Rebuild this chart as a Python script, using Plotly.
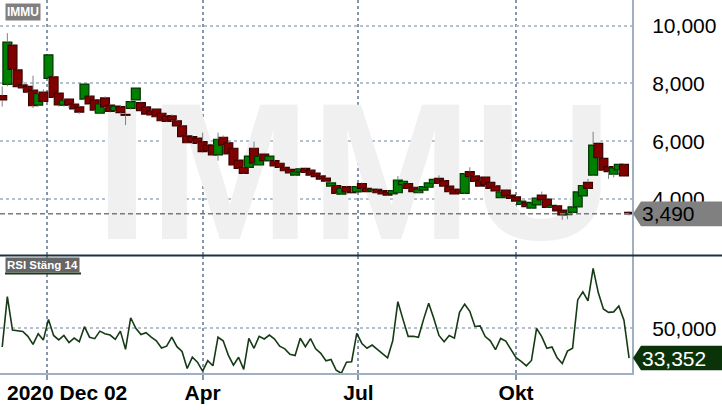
import pandas as pd
import plotly.graph_objects as go

# one candle every third day, Dec 2019 -> Dec 2020 (IMMU, SEK)
dates = pd.date_range("2019-12-06", periods=123, freq="3D")

opens = [7.58, 7.97, 9.33, 8.47, 7.95, 7.90, 7.77, 7.25, 7.70, 8.18,
         8.23, 7.67, 7.25, 7.46, 7.29, 7.19, 7.46, 7.56, 7.43, 6.97,
         7.50, 7.25, 7.06, 7.20, 6.93, 7.14, 7.43, 7.34, 7.19, 7.06,
         7.11, 6.97, 6.88, 6.88, 6.71, 6.53, 6.19, 6.16, 6.11, 5.99,
         5.87, 5.87, 5.53, 6.14, 5.95, 5.76, 5.35, 5.10, 5.10, 5.76,
         5.18, 5.56, 5.33, 5.33, 5.24, 5.10, 5.03, 4.83, 4.93, 5.06,
         5.00, 4.90, 4.80, 4.73, 4.45, 4.47, 4.17, 4.43, 4.25, 4.25,
         4.54, 4.37, 4.28, 4.34, 4.29, 4.25, 4.18, 4.22, 4.50, 4.54,
         4.41, 4.22, 4.31, 4.41, 4.54, 4.72, 4.64, 4.45, 4.34, 4.34,
         4.20, 4.95, 4.80, 4.64, 4.76, 4.58, 4.46, 4.05, 4.31, 4.14,
         4.08, 3.82, 3.89, 3.69, 3.80, 4.14, 4.00, 3.71, 3.77, 3.62,
         3.46, 3.54, 3.73, 4.11, 4.58, 4.83, 5.93, 5.41, 5.12, 4.86,
         5.01, 5.20, 3.54]
highs = [7.90, 9.74, 9.40, 8.52, 8.10, 7.95, 8.27, 7.75, 7.80, 9.00,
         8.30, 7.70, 7.48, 7.50, 7.35, 7.25, 8.00, 7.60, 7.45, 7.30,
         7.55, 7.30, 7.25, 7.25, 6.99, 7.40, 7.86, 7.38, 7.22, 7.10,
         7.15, 7.00, 6.92, 6.93, 6.76, 6.56, 6.23, 6.20, 6.15, 6.30,
         5.90, 5.90, 6.30, 6.20, 6.00, 5.80, 5.40, 5.15, 5.50, 5.99,
         5.50, 5.60, 5.52, 5.38, 5.28, 5.13, 5.06, 4.98, 5.08, 5.09,
         5.04, 4.95, 4.85, 4.78, 4.60, 4.50, 4.40, 4.46, 4.28, 4.45,
         4.58, 4.40, 4.38, 4.37, 4.31, 4.28, 4.30, 4.80, 4.63, 4.57,
         4.44, 4.35, 4.45, 4.58, 4.72, 4.82, 4.67, 4.48, 4.37, 4.36,
         4.92, 5.10, 4.83, 4.67, 4.80, 4.60, 4.49, 4.27, 4.35, 4.17,
         4.11, 3.95, 3.92, 3.90, 4.05, 4.26, 4.03, 3.79, 3.80, 3.64,
         3.56, 3.75, 4.27, 4.50, 4.70, 6.33, 5.96, 5.45, 5.15, 5.10,
         5.22, 5.22, 3.58]
lows = [7.20, 7.90, 8.45, 7.85, 7.78, 7.65, 7.15, 7.20, 7.35, 8.15,
        7.50, 7.20, 7.20, 7.15, 7.05, 6.95, 7.40, 7.25, 7.00, 6.95,
        7.15, 7.00, 7.00, 6.95, 6.56, 7.10, 7.40, 7.03, 6.92, 6.88,
        6.82, 6.68, 6.66, 6.72, 6.50, 6.15, 5.93, 5.97, 5.90, 5.60,
        5.65, 5.50, 5.33, 5.85, 5.54, 5.16, 5.04, 4.87, 5.08, 5.22,
        5.15, 5.30, 5.30, 5.13, 5.08, 4.96, 4.89, 4.80, 4.90, 4.90,
        4.81, 4.76, 4.67, 4.58, 4.42, 4.18, 4.15, 4.23, 4.20, 4.22,
        4.35, 4.24, 4.25, 4.20, 4.16, 4.12, 4.15, 4.20, 4.48, 4.35,
        4.25, 4.20, 4.29, 4.39, 4.52, 4.52, 4.43, 4.24, 4.16, 4.18,
        4.18, 4.76, 4.59, 4.42, 4.47, 4.35, 4.26, 4.03, 4.10, 4.00,
        3.91, 3.80, 3.72, 3.67, 3.78, 3.95, 3.69, 3.69, 3.57, 3.28,
        3.30, 3.52, 3.70, 4.08, 4.35, 4.80, 5.41, 4.98, 4.70, 4.75,
        4.90, 4.78, 3.43]
closes = [7.43, 9.43, 8.49, 7.89, 7.85, 7.70, 7.23, 7.65, 7.38, 8.99,
          7.52, 7.26, 7.42, 7.26, 7.12, 7.01, 7.98, 7.29, 7.08, 7.29,
          7.19, 7.03, 7.22, 6.99, 6.90, 7.37, 7.84, 7.06, 6.94, 6.91,
          6.85, 6.71, 6.69, 6.74, 6.53, 6.16, 5.95, 5.99, 5.93, 5.64,
          5.67, 5.53, 6.07, 5.87, 5.56, 5.18, 5.06, 4.89, 5.49, 5.24,
          5.48, 5.33, 5.49, 5.15, 5.10, 4.98, 4.91, 4.95, 5.05, 4.92,
          4.83, 4.78, 4.69, 4.62, 4.56, 4.20, 4.37, 4.25, 4.22, 4.43,
          4.37, 4.26, 4.34, 4.22, 4.18, 4.14, 4.29, 4.66, 4.61, 4.37,
          4.26, 4.34, 4.43, 4.56, 4.68, 4.54, 4.45, 4.26, 4.18, 4.20,
          4.88, 4.78, 4.61, 4.45, 4.49, 4.37, 4.28, 4.25, 4.11, 4.02,
          3.93, 3.93, 3.74, 3.88, 4.03, 3.97, 3.71, 3.78, 3.59, 3.45,
          3.52, 3.73, 4.25, 4.47, 4.37, 5.87, 5.43, 5.00, 4.95, 5.08,
          5.20, 4.80, 3.49]
rsi = [39.5, 67.7, 49.0, 48.8, 48.2, 45.5, 41.0, 47.0, 43.4, 55.0,
       46.0, 43.5, 46.0, 42.0, 44.5, 42.5, 50.9, 45.0, 44.2, 48.4,
       47.0, 46.2, 43.8, 48.4, 38.2, 55.9, 50.0, 46.5, 47.5, 45.0,
       43.0, 39.0, 40.0, 45.0, 39.7, 37.0, 27.5, 33.8, 31.0, 26.0,
       31.9, 29.0, 45.0, 43.0, 35.0, 29.4, 33.8, 27.0, 44.4, 38.8,
       45.5, 44.0, 46.2, 44.0, 40.0, 38.5, 35.5, 34.8, 44.4, 39.7,
       44.2, 38.5, 36.0, 31.8, 32.5, 26.5, 24.8, 31.0, 31.3, 47.2,
       41.5, 38.8, 40.6, 38.2, 36.0, 33.4, 43.0, 64.9, 55.0, 45.5,
       45.5, 45.0, 55.0, 64.0, 55.5, 46.0, 42.5, 46.0, 44.5, 59.0,
       63.5, 59.5, 51.0, 51.3, 45.4, 43.0, 38.0, 44.3, 42.8, 38.5,
       33.5, 31.5, 29.0, 32.0, 50.0, 45.3, 38.8, 39.5, 33.5, 30.3,
       37.2, 38.8, 65.9, 70.4, 65.3, 83.6, 70.0, 60.8, 58.9, 59.2,
       62.5, 54.5, 33.352]

tick_dates = ["2020-01-01", "2020-04-01", "2020-07-01", "2020-10-01"]
tick_text = ["", "Apr", "Jul", "Okt"]

UP, DOWN = "#008000", "#800000"
UP_EDGE, DOWN_EDGE = "#003300", "#3d0000"
RSI_COL = "#153a15"
AXIS_COL = "#9fb0c3"
GRID_V = "#8797a9"
GRID_H = "#b5c1cd"
FONT = "Liberation Sans, Arial, sans-serif"
PRICE_RANGE = [2.066, 10.889]
PRICE_DOMAIN = [0.3164, 1]


def fmt(v):
    return f"{v:.3f}".replace(".", ",")


up = [c >= o for o, c in zip(opens, closes)]
# wicks stop at the body so they never run across the box
wick_x, wick_y = [], []
for d, o, h, lo, c in zip(dates, opens, highs, lows, closes):
    wick_x += [d, d, None, d, d, None]
    wick_y += [lo, min(o, c), None, max(o, c), h, None]

fig = go.Figure()
# big faint ticker in the background (base subplot, so candles sit on top of it)
fig.add_trace(go.Scatter(
    x=[pd.Timestamp("2020-06-28 05:00")], y=[4.30], mode="text", text=["IMMU"],
    textposition="middle center", hoverinfo="skip",
    textfont=dict(family=FONT, size=194, color="#f0f0f0", weight="bold")))
fig.add_trace(go.Bar(
    x=dates, base=opens, y=[c - o for o, c in zip(opens, closes)], yaxis="y3",
    width=[5.2 * 86400000] * len(dates),
    marker=dict(color=[UP if u else DOWN for u in up],
                line=dict(color=[UP_EDGE if u else DOWN_EDGE for u in up], width=1.2))))
fig.add_trace(go.Scatter(x=wick_x, y=wick_y, yaxis="y3", mode="lines", hoverinfo="skip",
                         line=dict(color="#808080", width=1)))
fig.add_trace(go.Scatter(x=dates, y=rsi, yaxis="y2", mode="lines",
                         line=dict(color=RSI_COL, width=1.6)))

last_p, last_r = closes[-1], rsi[-1]
badge = "M 1,0 L 9,12.3 L 95,12.3 L 95,-12.3 L 9,-12.3 Z"
fig.update_layout(
    width=722, height=410, margin=dict(l=0, r=90, t=0, b=37),
    paper_bgcolor="white", plot_bgcolor="white", showlegend=False,
    separators=",.", font=dict(family=FONT, color="black"),
    xaxis=dict(type="date", range=["2019-12-04 17:00", "2020-12-07 16:48"],
               anchor="y2", tickvals=tick_dates, ticktext=tick_text,
               showgrid=True, gridcolor=GRID_V, griddash="dot", gridwidth=1.5,
               showline=True, linecolor=AXIS_COL, linewidth=2,
               ticks="outside", ticklen=5, tickcolor=GRID_V, tickwidth=1.5,
               ticklabelstandoff=-5,
               tickfont=dict(family=FONT, size=21, color="black", weight="bold")),
    yaxis=dict(domain=PRICE_DOMAIN, range=PRICE_RANGE, side="right", anchor="x",
               tick0=0, dtick=2, tickformat=".3f",
               showgrid=True, gridcolor=GRID_H, griddash="dot", gridwidth=1.5,
               zeroline=False, showline=True, linecolor=AXIS_COL, linewidth=2,
               ticklabelstandoff=14, tickfont=dict(family=FONT, size=21, color="black")),
    yaxis3=dict(overlaying="y", range=PRICE_RANGE, anchor="x", visible=False,
                showgrid=False, zeroline=False),
    yaxis2=dict(domain=[0, 0.3137], range=[24.96, 90.5], side="right", anchor="x",
                tick0=0, dtick=50, tickformat=".3f",
                showgrid=True, gridcolor=GRID_H, griddash="dot", gridwidth=1.5,
                zeroline=False, showline=True, linecolor=AXIS_COL, linewidth=2,
                ticklabelstandoff=14, tickfont=dict(family=FONT, size=21, color="black")),
    shapes=[
        dict(type="line", xref="paper", yref="y", x0=0, x1=1, y0=last_p, y1=last_p,
             line=dict(color="#7a7a7a", width=1.5, dash="5px,3px")),
        dict(type="line", xref="paper", yref="paper", x0=0, x1=722 / 632,
             y0=0.315, y1=0.315, line=dict(color="#1d3244", width=2)),
        dict(type="path", xref="paper", yref="y", xsizemode="pixel", ysizemode="pixel",
             xanchor=1, yanchor=last_p, path=badge, fillcolor="#808080", line=dict(width=0)),
        dict(type="path", xref="paper", yref="y2", xsizemode="pixel", ysizemode="pixel",
             xanchor=1, yanchor=last_r, path=badge, fillcolor="#0a330a", line=dict(width=0)),
        dict(type="line", xref="paper", yref="paper", x0=5 / 632, x1=81 / 632,
             y0=0.2668, y1=0.2668, line=dict(color=RSI_COL, width=2)),
    ],
    annotations=[
        dict(text="IMMU", xref="paper", yref="paper", x=5 / 632, y=0.969,
             xanchor="left", yanchor="middle", showarrow=False, bgcolor="#808080",
             borderpad=1, font=dict(family=FONT, size=12, color="white", weight="bold")),
        dict(text="RSI Stäng 14", xref="paper", yref="paper", x=5 / 632, y=0.2889,
             xanchor="left", yanchor="middle", showarrow=False, bgcolor="#666666",
             borderpad=1, font=dict(family=FONT, size=11.5, color="white", weight="bold")),
        dict(text="2020 Dec 02", xref="paper", yref="paper", x=5 / 632, y=-0.0534,
             xanchor="left", yanchor="middle", showarrow=False,
             font=dict(family=FONT, size=21, color="black", weight="bold")),
        dict(text=fmt(last_p), xref="paper", yref="y", x=1, y=last_p, xshift=8,
             xanchor="left", yanchor="middle", showarrow=False,
             font=dict(family=FONT, size=21, color="black")),
        dict(text=fmt(last_r), xref="paper", yref="y2", x=1, y=last_r, xshift=8,
             xanchor="left", yanchor="middle", showarrow=False,
             font=dict(family=FONT, size=21, color="white")),
    ],
)

# the page's default 8px body margin would shift the chart; drop it
fig.write_html("out.html", config={"displayModeBar": False},
               post_script="document.body.style.margin='0';")
